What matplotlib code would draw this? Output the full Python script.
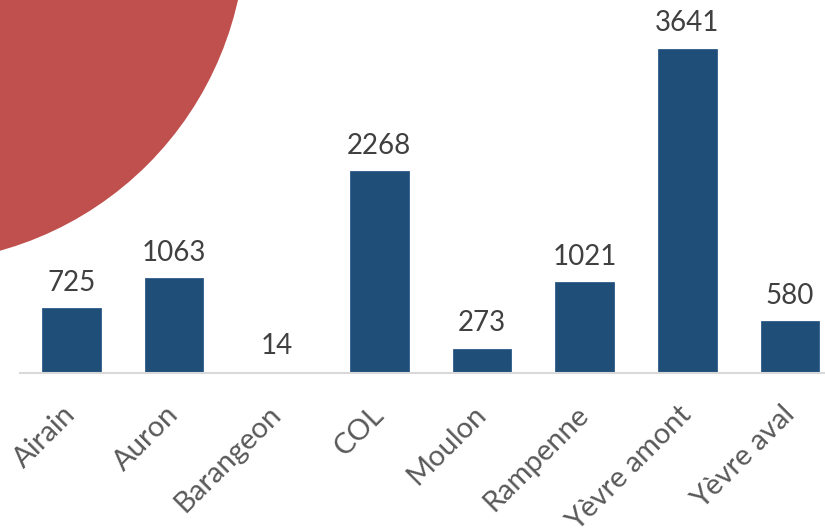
import matplotlib.pyplot as plt
from matplotlib.patches import Ellipse

categories = ["Airain", "Auron", "Barangeon", "COL", "Moulon", "Rampenne", "Yèvre amont", "Yèvre aval"]
values = [725, 1063, 14, 2268, 273, 1021, 3641, 580]

plt.rcParams['font.family'] = ['Lato', 'DejaVu Sans']

W, H = 825, 530
fig = plt.figure(figsize=(W / 100, H / 100), dpi=100)
ax = fig.add_axes([20 / W, 157 / H, 805 / W, 373 / H])
ax.patch.set_visible(False)

# red disc in the top-left corner (drawn behind the axes)
r = 336
disc = Ellipse((-90 / W, 1 + 73 / H), 2 * r / W, 2 * r / H,
               transform=fig.transFigure, facecolor="#C0504D", edgecolor="none", zorder=-1)
fig.patches.append(disc)

x = range(len(categories))
bars = ax.bar(x, values, width=0.57, color="#1F4E79", edgecolor="#2E5C8A", linewidth=0.6)

for b, v in zip(bars, values):
    ax.annotate(str(v), (b.get_x() + b.get_width() / 2, v), xytext=(0, 9),
                textcoords="offset points", ha="center", va="bottom",
                fontsize=20, color="#404040")

ax.set_xlim(-0.5, 7.34)
ax.set_ylim(0, 4190)
ax.set_yticks([])
ax.set_xticks(list(x))
ax.set_xticklabels(categories, rotation=45, ha="right", va="center",
                   rotation_mode="anchor", fontsize=21, color="#595959")
ax.tick_params(axis="x", length=0, pad=27)
for s in ["top", "right", "left"]:
    ax.spines[s].set_visible(False)
ax.spines["bottom"].set_color("#D9D9D9")
ax.spines["bottom"].set_linewidth(1.5)

fig.savefig("out.png", dpi=100)
